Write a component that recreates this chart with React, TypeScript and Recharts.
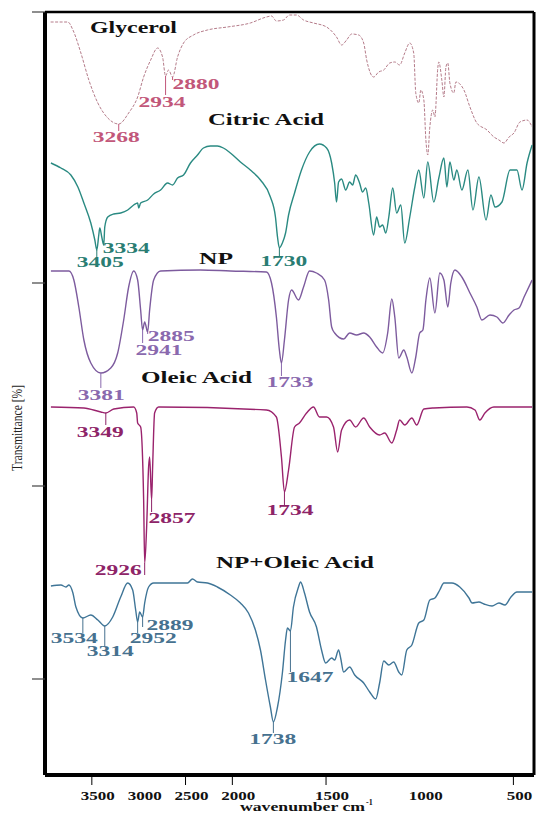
import React from 'react'
import { LineChart, Line, XAxis, YAxis, ReferenceDot, ReferenceLine } from 'recharts'

// [wavenumber cm-1, stacked transmittance (arbitrary offset units)]
type Pt = [number, number]

const glycerol: Pt[] = [
  [3940, 753], [3756, 753], [3702, 745], [3617, 722], [3532, 695], [3436, 672], [3330, 657], [3213, 651],
  [3107, 662], [3011, 678], [2947, 698], [2872, 715], [2798, 727], [2745, 718], [2713, 699], [2681, 705],
  [2638, 698], [2585, 718], [2521, 732], [2415, 740], [2266, 745], [2053, 748], [1904, 752], [1818, 758],
  [1791, 759], [1765, 754], [1727, 755], [1695, 760], [1658, 760], [1620, 755], [1567, 752], [1497, 748],
  [1444, 738], [1417, 730], [1390, 735], [1363, 741], [1326, 740], [1299, 732], [1283, 715], [1246, 698],
  [1219, 703], [1192, 705], [1160, 712], [1133, 713], [1107, 710], [1080, 722], [1053, 732], [1032, 722],
  [1021, 682], [1005, 672], [994, 685], [978, 675], [967, 635], [957, 620], [946, 648], [930, 665],
  [919, 658], [903, 708], [898, 713], [882, 695], [871, 678], [860, 708], [850, 712], [839, 692],
  [818, 682], [807, 693], [764, 685], [732, 668], [695, 652], [641, 645], [604, 638], [577, 635],
  [550, 632], [523, 638], [497, 642], [465, 653], [427, 655], [400, 648],
]

const citricAcid: Pt[] = [
  [3937, 612], [3830, 607], [3724, 600], [3649, 588], [3585, 572], [3511, 552], [3468, 535], [3447, 525],
  [3426, 540], [3415, 547], [3394, 538], [3373, 530], [3362, 548], [3330, 558], [3266, 561], [3192, 562],
  [3117, 565], [3053, 570], [3011, 572], [3000, 567], [2979, 572], [2904, 575], [2840, 581], [2766, 585],
  [2692, 592], [2638, 590], [2585, 597], [2521, 600], [2447, 612], [2372, 620], [2309, 627], [2234, 629],
  [2160, 629], [2096, 627], [2021, 622], [1957, 613], [1904, 605], [1850, 595], [1797, 578], [1770, 558],
  [1759, 538], [1749, 527], [1733, 532], [1716, 542], [1700, 560], [1668, 582], [1631, 605], [1588, 623],
  [1535, 631], [1497, 627], [1470, 612], [1454, 592], [1444, 573], [1433, 593], [1417, 596], [1395, 585],
  [1374, 593], [1358, 590], [1342, 600], [1321, 592], [1305, 583], [1288, 587], [1272, 572], [1246, 540],
  [1230, 558], [1214, 548], [1198, 550], [1181, 542], [1165, 558], [1144, 587], [1123, 562], [1101, 570],
  [1080, 532], [1053, 558], [1026, 588], [1005, 605], [978, 577], [957, 613], [925, 573], [898, 597],
  [871, 617], [855, 588], [839, 613], [818, 595], [802, 605], [775, 585], [743, 605], [716, 565],
  [684, 598], [646, 555], [620, 580], [598, 568], [561, 573], [518, 605], [481, 605], [454, 585],
  [427, 612], [400, 630],
]

const np: Pt[] = [
  [3937, 504], [3745, 504], [3692, 495], [3639, 468], [3585, 435], [3511, 412], [3404, 402], [3298, 407],
  [3224, 422], [3160, 455], [3107, 488], [3053, 504], [3011, 495], [2979, 465], [2958, 445], [2936, 453],
  [2904, 443], [2883, 465], [2840, 495], [2766, 504], [2340, 505], [2021, 504], [1818, 503], [1791, 492],
  [1765, 458], [1749, 425], [1738, 412], [1722, 435], [1700, 475], [1684, 485], [1647, 475], [1620, 488],
  [1588, 504], [1551, 502], [1508, 495], [1486, 475], [1470, 448], [1454, 442], [1406, 436], [1374, 442],
  [1337, 440], [1299, 442], [1267, 438], [1230, 428], [1198, 422], [1171, 442], [1149, 476], [1133, 458],
  [1112, 417], [1085, 425], [1069, 418], [1042, 402], [1021, 418], [1000, 442], [983, 445], [967, 475],
  [946, 497], [919, 462], [893, 502], [871, 495], [850, 468], [834, 492], [812, 505], [775, 498],
  [732, 482], [695, 468], [668, 455], [625, 460], [588, 458], [556, 452], [523, 460], [497, 465],
  [470, 467], [443, 478], [400, 495],
]

const oleicAcid: Pt[] = [
  [3937, 368], [3585, 367], [3404, 363], [3351, 362], [3266, 366], [3053, 368], [3021, 362], [3011, 352],
  [2979, 348], [2947, 275], [2936, 212], [2915, 248], [2894, 308], [2883, 318], [2862, 275], [2851, 308],
  [2830, 362], [2787, 368], [1818, 365], [1765, 358], [1738, 318], [1722, 283], [1700, 305], [1668, 348],
  [1642, 352], [1604, 362], [1567, 368], [1535, 358], [1497, 358], [1460, 348], [1438, 323], [1417, 345],
  [1374, 355], [1342, 348], [1299, 357], [1267, 348], [1214, 340], [1187, 342], [1149, 332], [1123, 345],
  [1107, 355], [1080, 350], [1042, 357], [1016, 350], [978, 366], [925, 367], [748, 368], [705, 365],
  [679, 355], [652, 362], [604, 368], [400, 368],
]

const npOleicAcid: Pt[] = [
  [3937, 189], [3830, 190], [3777, 188], [3745, 190], [3702, 182], [3670, 168], [3596, 157], [3511, 160],
  [3436, 155], [3362, 149], [3277, 158], [3192, 178], [3117, 192], [3064, 185], [3032, 165], [3011, 153],
  [2990, 163], [2958, 158], [2936, 172], [2894, 188], [2840, 192], [2479, 192], [2426, 196], [2372, 193],
  [2266, 192], [2160, 188], [2021, 180], [1957, 172], [1914, 162], [1877, 145], [1850, 125], [1823, 95],
  [1797, 68], [1781, 53], [1759, 68], [1733, 102], [1716, 135], [1706, 147], [1690, 144], [1674, 168],
  [1647, 188], [1636, 193], [1615, 182], [1588, 163], [1551, 148], [1524, 125], [1502, 112], [1470, 117],
  [1454, 115], [1433, 125], [1422, 117], [1406, 103], [1374, 108], [1347, 100], [1299, 92], [1267, 83],
  [1235, 76], [1214, 92], [1192, 114], [1165, 110], [1139, 113], [1112, 103], [1096, 100], [1069, 125],
  [1042, 130], [1005, 152], [978, 155], [946, 175], [919, 177], [893, 185], [871, 192], [828, 192],
  [786, 188], [737, 177], [721, 172], [684, 173], [657, 171], [614, 169], [577, 172], [545, 170],
  [513, 178], [481, 183], [400, 183],
]

// labelled bands: [label, wavenumber of the marked point, value there]
const glycerolPeaks: [string, number, number][] = [['3268', 3213, 651], ['2934', 2713, 699], ['2880', 2638, 698]]
const citricPeaks: [string, number, number][] = [['3405', 3447, 525], ['3334', 3373, 530], ['1730', 1749, 527]]
const npPeaks: [string, number, number][] = [['3381', 3404, 402], ['2941', 2958, 445], ['2885', 2904, 443], ['1733', 1738, 412]]
const oleicPeaks: [string, number, number][] = [['3349', 3351, 362], ['2926', 2936, 212], ['2857', 2862, 275], ['1734', 1722, 283]]
const npOleicPeaks: [string, number, number][] = [
  ['3534', 3596, 157], ['3314', 3362, 149], ['2952', 3011, 153], ['2889', 2958, 158], ['1738', 1781, 53], ['1647', 1690, 144],
]

const X_TICKS = [3500, 3000, 2500, 2000, 1500, 1000, 500]
const X_TICK_MARKS = [3500, 2500, 2000, 1500, 500]
const Y_TICKS = [96, 289, 492, 763]
const X_MIN = 390
const Y_MAX = 763

// label placement relative to the marked point (px)
const PEAK_LAYOUT: Record<string, { dx: number; dy: number; len: number }> = {
  '3268': { dx: -26, dy: 18, len: 7 },
  '2934': { dx: -27, dy: 31, len: 19 },
  '2880': { dx: 0, dy: 12, len: 3 },
  '3405': { dx: -20, dy: 17, len: 7 },
  '3334': { dx: -1, dy: 8, len: 0 },
  '1730': { dx: -19, dy: 18, len: 8 },
  '3381': { dx: -23, dy: 27, len: 15 },
  '2941': { dx: -7, dy: 25, len: 13 },
  '2885': { dx: 0, dy: 9, len: 2 },
  '1733': { dx: -15, dy: 24, len: 13 },
  '3349': { dx: -29, dy: 24, len: 12 },
  '2926': { dx: -50, dy: 12, len: 12 },
  '2857': { dx: -3, dy: 23, len: 12 },
  '1734': { dx: -18, dy: 23, len: 13 },
  '3534': { dx: -32, dy: 25, len: 15 },
  '3314': { dx: -18, dy: 30, len: 20 },
  '2952': { dx: -8, dy: 21, len: 11 },
  '2889': { dx: 4, dy: 13, len: 10 },
  '1738': { dx: -24, dy: 22, len: 11 },
  '1647': { dx: -4, dy: 51, len: 41 },
}

const SERIES = [
  { name: 'Glycerol', data: glycerol, peaks: glycerolPeaks, color: '#b57c8a', text: '#c2577a', dash: '3 1.5', width: 1 },
  { name: 'Citric Acid', data: citricAcid, peaks: citricPeaks, color: '#2a8a82', text: '#2a7d73', dash: undefined, width: 1.4 },
  { name: 'NP', data: np, peaks: npPeaks, color: '#7d5b9e', text: '#8a69ae', dash: undefined, width: 1.4 },
  { name: 'Oleic Acid', data: oleicAcid, peaks: oleicPeaks, color: '#9a236d', text: '#8e2468', dash: undefined, width: 1.4 },
  { name: 'NP+Oleic Acid', data: npOleicAcid, peaks: npOleicPeaks, color: '#3f7597', text: '#46718f', dash: undefined, width: 1.4 },
]

const TITLES = [
  { text: 'Glycerol', x: 90, y: 33, len: 87 },
  { text: 'Citric Acid', x: 208, y: 125, len: 116 },
  { text: 'NP', x: 199, y: 264, len: 34 },
  { text: 'Oleic Acid', x: 141, y: 383, len: 111 },
  { text: 'NP+Oleic Acid', x: 216, y: 568, len: 158 },
]

const SERIF = '"Liberation Serif", "Times New Roman", serif'

// the instrument plot squeezes everything above 2000 cm-1 to half scale
const toAxis = (w: number) => (w > 2000 ? 2000 + (w - 2000) / 2 : w)
const fromAxis = (t: number) => (t > 2000 ? 2000 + (t - 2000) * 2 : t)

function XTick({ x, y, payload }: any) {
  const w = fromAxis(payload.value)
  const label = String(Math.round(w))
  return (
    <g>
      {X_TICK_MARKS.includes(Math.round(w)) && (
        <line x1={x} y1={y - 8} x2={x} y2={y + 2} stroke="#000" strokeWidth={1} />
      )}
      <text
        x={x + 6}
        y={y + 17}
        textAnchor="middle"
        fontFamily={SERIF}
        fontWeight="bold"
        fontSize={12}
        textLength={label.length * 8.5}
        lengthAdjust="spacingAndGlyphs"
        fill="#111"
      >
        {label}
      </text>
    </g>
  )
}

// y ticks carry no labels, only the marks
const NoLabel = () => <g />

function PeakMark({ cx, cy, text, color }: any) {
  const l = PEAK_LAYOUT[text]
  return (
    <g>
      {l.len > 0 && <line x1={cx} y1={cy} x2={cx} y2={cy + l.len} stroke={color} strokeWidth={1} />}
      <text
        x={cx + l.dx}
        y={cy + l.dy}
        fill={color}
        fontFamily={SERIF}
        fontWeight="bold"
        fontSize={15}
        textLength={47}
        lengthAdjust="spacingAndGlyphs"
      >
        {text}
      </text>
    </g>
  )
}

export default function App() {
  const series = SERIES.map(s => ({
    ...s,
    points: s.data.map(([w, v]) => ({ x: toAxis(w), v })),
  }))

  return (
    <div style={{ position: 'absolute', left: 0, top: 0, width: 536, height: 814, background: '#fff' }}>
      <LineChart width={536} height={814} margin={{ top: 12, right: 2, bottom: 0, left: 31 }}>
        <XAxis
          dataKey="x"
          type="number"
          domain={[X_MIN, 3000]}
          reversed
          ticks={X_TICKS.map(toAxis)}
          interval={0}
          height={39}
          tickSize={8}
          tickMargin={0}
          tickLine={false}
          axisLine={{ stroke: '#000', strokeWidth: 4 }}
          tick={<XTick />}
        />
        <YAxis
          type="number"
          domain={[0, Y_MAX]}
          ticks={Y_TICKS}
          interval={0}
          width={14}
          tickSize={13}
          tick={<NoLabel />}
          tickLine={{ stroke: '#444', strokeWidth: 1.2 }}
          axisLine={{ stroke: '#000', strokeWidth: 4 }}
        />
        {/* frame: top and right edges */}
        <ReferenceLine y={Y_MAX} stroke="#000" strokeWidth={2.5} />
        <ReferenceLine x={X_MIN} stroke="#000" strokeWidth={3} />
        {series.map(s => (
          <Line
            key={s.name}
            name={s.name}
            data={s.points}
            dataKey="v"
            type="monotone"
            stroke={s.color}
            strokeWidth={s.width}
            strokeDasharray={s.dash}
            dot={false}
            activeDot={false}
            isAnimationActive={false}
          />
        ))}
        {series.flatMap(s =>
          s.peaks.map(([label, w, v]) => (
            <ReferenceDot
              key={s.name + label}
              x={toAxis(w)}
              y={v}
              r={0}
              shape={(p: any) => <PeakMark cx={p.cx} cy={p.cy} text={label} color={s.text} />}
            />
          ))
        )}
      </LineChart>

      <svg width={536} height={814} style={{ position: 'absolute', left: 0, top: 0, pointerEvents: 'none' }}>
        {TITLES.map(t => (
          <text
            key={t.text}
            x={t.x}
            y={t.y}
            fontFamily={SERIF}
            fontWeight="bold"
            fontSize={17}
            textLength={t.len}
            lengthAdjust="spacingAndGlyphs"
            fill="#111"
          >
            {t.text}
          </text>
        ))}
        <text
          transform="translate(22, 428) rotate(-90)"
          textAnchor="middle"
          fontFamily={SERIF}
          fontSize={14}
          textLength={86}
          lengthAdjust="spacingAndGlyphs"
          fill="#222"
        >
          Transmittance [%]
        </text>
        <text x={240} y={811} fontFamily={SERIF} fontWeight="bold" fontSize={12} textLength={125} lengthAdjust="spacingAndGlyphs" fill="#111">
          wavenumber cm
        </text>
        <text x={366} y={805} fontFamily={SERIF} fontWeight="bold" fontSize={8} fill="#111">
          -1
        </text>
      </svg>
    </div>
  )
}
